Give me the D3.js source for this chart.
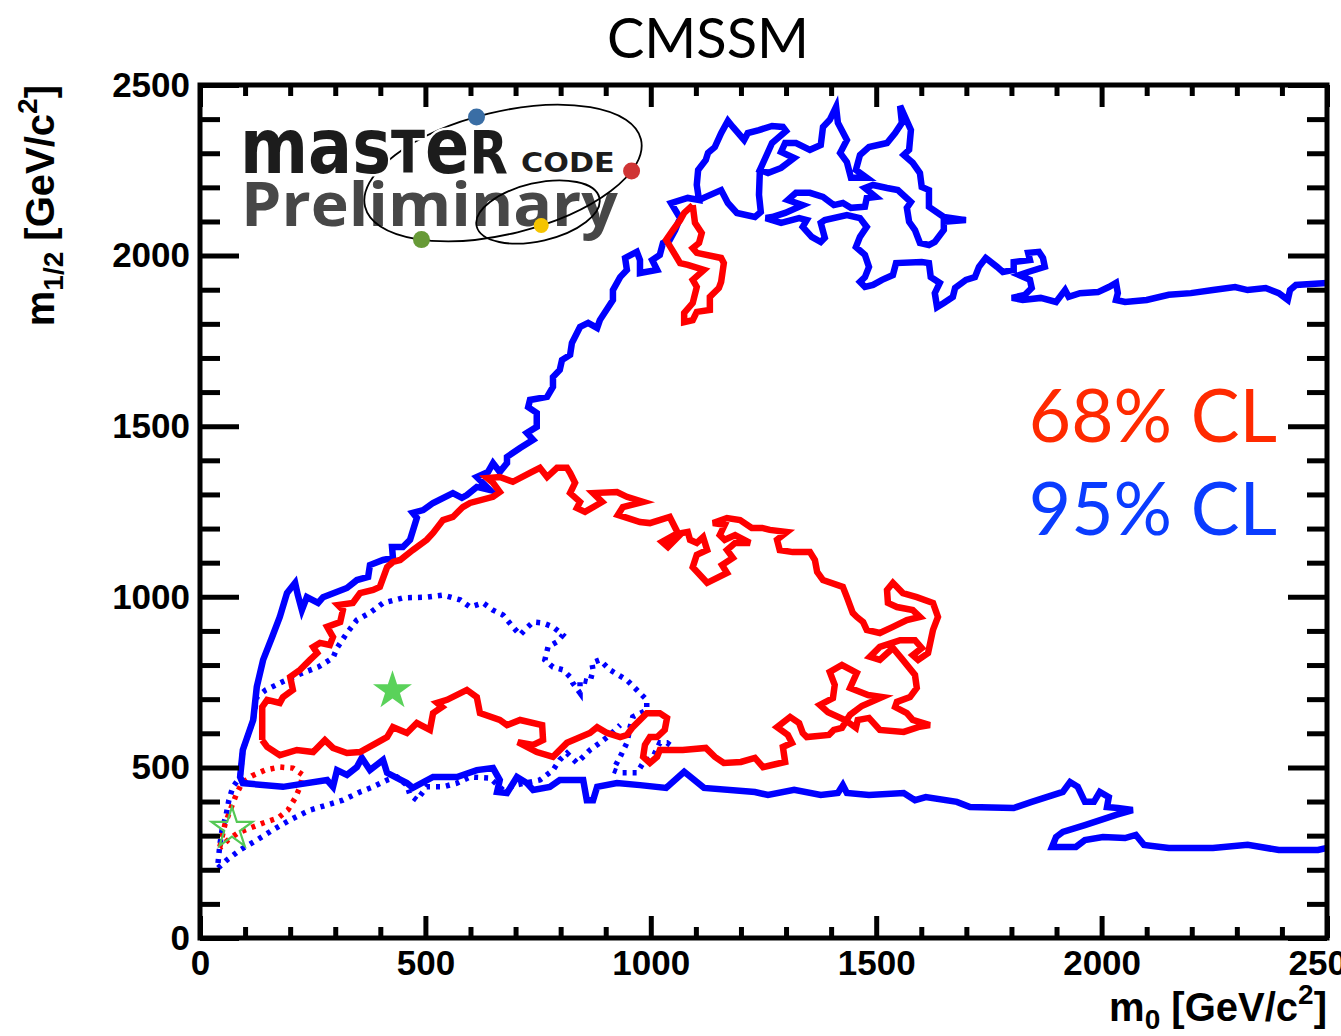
<!DOCTYPE html>
<html>
<head>
<meta charset="utf-8">
<script src="https://cdn.jsdelivr.net/npm/d3@7"></script>
<style>
  body { margin: 0; background: #fff; }
  svg { display: block; }
</style>
</head>
<body>
<script>
"use strict";

// ---- contour data, [m0, m1/2] in GeV ----
const blue95Main = [
  [2500,264],[2480,258],[2393,258],[2324,273],[2247,264],[2149,264],[2094,273],[2076,302],[2052,293],[2003,296],[1963,287],[1943,267],[1890,267],
  [1899,296],[1914,311],[1963,331],[2012,352],[2032,361],[2069,375],[2036,381],[2012,384],[2016,413],[1996,428],[1983,399],[1963,399],[1947,443],
  [1930,457],[1914,428],[1845,399],[1805,381],[1708,384],[1679,399],[1610,413],[1586,404],[1561,425],[1484,419],[1435,425],[1426,448],[1415,425],
  [1377,419],[1318,434],[1260,419],[1231,428],[1118,440],[1074,487],[1034,440],[976,448],[925,454],[881,443],[872,404],[858,404],[850,463],
  [798,463],[776,443],[739,434],[725,454],[703,472],[681,425],[659,428],[665,463],[650,498],[614,492],[570,472],[517,472],[472,440],[459,454],
  [415,484],[406,522],[377,492],[359,528],[348,501],[326,478],[304,492],[295,443],[282,463],[184,443],[95,454],[89,472],[95,551],[118,639],
  [126,736],[140,815],[160,882],[177,941],[193,1011],[211,1041],[217,1005],[226,961],[237,999],[262,982],[273,999],[326,1026],[348,1049],
  [373,1058],[377,1093],[406,1108],[428,1114],[426,1146],[450,1146],[466,1167],[481,1231],[472,1246],[495,1254],[517,1275],[561,1304],
  [581,1290],[592,1298],[614,1322],[643,1313],[614,1351],[639,1366],[650,1392],[665,1366],[681,1392],[681,1410],[710,1436],[739,1460],
  [725,1480],[747,1498],[747,1539],[728,1556],[732,1577],[770,1586],[783,1615],[783,1644],[798,1665],[803,1694],[821,1709],[825,1744],
  [843,1791],[861,1803],[881,1788],[887,1811],[916,1870],[916,1899],[932,1937],[947,1958],[943,1993],[969,2011],[976,1987],[976,1949],
  [1014,1958],[1003,1987],[1020,2002],[1027,2037],[1042,2046],[1054,2075],[1065,2110],[1045,2154],[1082,2169],[1107,2163],[1102,2207],
  [1105,2251],[1122,2280],[1127,2301],[1142,2318],[1156,2359],[1171,2395],[1182,2377],[1207,2339],[1215,2359],[1240,2368],[1269,2380],
  [1293,2377],[1300,2365],[1269,2330],[1255,2289],[1242,2251],[1260,2242],[1289,2257],[1318,2286],[1289,2304],[1298,2330],[1322,2330],
  [1353,2310],[1377,2324],[1382,2377],[1397,2398],[1411,2436],[1415,2389],[1435,2339],[1420,2301],[1435,2274],[1444,2228],[1479,2228],
  [1455,2251],[1464,2295],[1484,2318],[1524,2330],[1542,2359],[1557,2389],[1553,2439],[1577,2368],[1573,2310],[1561,2295],[1581,2272],
  [1597,2242],[1601,2201],[1617,2192],[1617,2143],[1650,2113],[1699,2104],[1650,2099],[1650,2075],[1630,2040],[1617,2031],[1597,2037],
  [1586,2075],[1573,2099],[1568,2140],[1577,2157],[1548,2192],[1524,2198],[1493,2207],[1475,2198],[1499,2172],[1479,2169],[1475,2143],
  [1444,2140],[1426,2154],[1406,2148],[1382,2172],[1353,2184],[1322,2184],[1304,2163],[1337,2148],[1298,2125],[1269,2113],[1255,2110],
  [1289,2096],[1329,2110],[1346,2104],[1337,2084],[1357,2055],[1377,2040],[1386,2052],[1377,2096],[1386,2104],[1435,2119],[1464,2110],
  [1479,2084],[1464,2055],[1455,2025],[1475,2002],[1484,1967],[1475,1937],[1464,1923],[1475,1908],[1493,1914],[1513,1929],[1537,1943],
  [1544,1978],[1601,1981],[1617,1978],[1621,1937],[1641,1920],[1630,1890],[1635,1849],[1650,1861],[1670,1879],[1675,1905],[1699,1929],
  [1719,1937],[1728,1967],[1743,1993],[1768,1967],[1781,1952],[1805,1958],[1805,1981],[1841,1987],[1837,2008],[1861,2011],[1870,1993],
  [1874,1967],[1837,1952],[1817,1943],[1841,1929],[1845,1905],[1830,1885],[1801,1876],[1825,1870],[1865,1876],[1899,1864],[1919,1899],
  [1927,1879],[1952,1890],[1992,1893],[2016,1908],[2032,1920],[2036,1890],[2032,1870],[2052,1864],[2100,1870],[2149,1885],[2198,1890],
  [2247,1899],[2296,1908],[2324,1899],[2364,1905],[2393,1890],[2413,1870],[2418,1899],[2431,1914],[2500,1920]
];

const blue95Lobe = [
  [1107,2163],[1122,2172],[1156,2192],[1171,2154],[1191,2125],[1231,2113],[1244,2128],[1240,2178],[1242,2251]
];

const red68Main = [
  [138,580],[138,677],[149,698],[177,689],[184,706],[206,727],[200,765],[222,786],[244,815],[260,835],[251,853],[266,865],[288,859],
  [295,882],[282,912],[311,926],[317,961],[306,976],[339,982],[355,1011],[384,1020],[399,1029],[415,1087],[428,1102],[444,1108],
  [472,1137],[503,1167],[517,1187],[539,1225],[561,1234],[583,1263],[599,1275],[650,1293],[665,1307],[650,1334],[637,1348],[665,1351],
  [694,1337],[732,1363],[754,1378],[770,1351],[792,1378],[814,1378],[821,1363],[832,1334],[821,1304],[843,1278],[836,1260],[854,1249],
  [892,1278],[872,1304],[925,1307],[947,1293],[983,1278],[938,1263],[927,1240],[976,1219],[998,1216],[1042,1234],[1060,1187],[1025,1161],
  [1038,1146],[1069,1187],[1082,1190],[1087,1167],[1102,1158],[1116,1175],[1125,1137],[1102,1123],[1093,1087],[1125,1041],[1169,1070],
  [1158,1093],[1182,1114],[1169,1137],[1187,1158],[1220,1158],[1187,1181],[1164,1167],[1153,1181],[1164,1211],[1138,1216],[1169,1231],
  [1198,1225],[1224,1202],[1247,1202],[1264,1196],[1302,1190],[1280,1167],[1286,1137],[1315,1131],[1353,1131],[1364,1108],[1369,1073],
  [1382,1049],[1426,1029],[1435,999],[1448,953],[1457,941],[1471,926],[1479,903],[1508,894],[1537,912],[1568,932],[1597,941],[1581,961],
  [1546,970],[1526,982],[1524,1020],[1537,1041],[1559,1011],[1590,999],[1626,982],[1637,941],[1626,903],[1615,835],[1593,815],[1581,829],
  [1601,850],[1586,873],[1553,873],[1508,853],[1486,824],[1508,815],[1537,850],[1559,815],[1586,771],[1590,733],[1575,706],[1546,692],
  [1542,677],[1568,659],[1581,639],[1619,624],[1593,618],[1561,604],[1508,610],[1484,645],[1459,639],[1455,616],[1431,639],[1393,662],
  [1375,683],[1404,703],[1408,742],[1397,780],[1424,800],[1457,777],[1442,733],[1482,712],[1513,706],[1468,680],[1442,654],[1424,616],
  [1406,610],[1395,595],[1346,589],[1337,601],[1329,630],[1309,648],[1280,618],[1304,595],[1313,572],[1293,560],[1298,516],[1269,507],
  [1249,501],[1231,528],[1200,516],[1162,513],[1142,531],[1122,557],[1071,551],[1020,551],[1014,531],[998,513],[983,531],[987,566],
  [998,589],[1014,589],[1031,610],[1036,645],[1020,659],[991,659],[960,618],[947,595],[932,589],[903,601],[881,618],[865,601],[814,572],
  [783,531],[747,545],[705,574],[739,566],[761,580],[759,624],[710,639],[681,624],[665,639],[621,659],[614,706],[592,727],[548,698],
  [526,689],[537,677],[517,659],[510,610],[481,630],[459,601],[428,618],[415,589],[384,566],[355,545],[326,542],[295,557],[277,580],
  [251,545],[215,551],[177,536],[149,560],[138,580]
];

const red68Upper = [
  [1093,2148],[1098,2096],[1113,2066],[1107,2037],[1093,2022],[1102,2008],[1156,1993],[1162,1978],[1156,1923],[1151,1905],[1131,1879],
  [1131,1841],[1102,1835],[1093,1811],[1074,1805],[1074,1832],[1093,1861],[1102,1908],[1093,1929],[1118,1958],[1082,1973],[1065,1978],
  [1045,2022],[1034,2046],[1049,2075],[1065,2104],[1074,2125],[1093,2148]
];

// dotted contours (earlier fit)
const blue95PrevUpper = [
  [40,220],[44,273],[49,317],[58,361],[64,404],[73,443],[89,472],[95,551],[118,639],[126,706],[146,727],[182,750],[228,777],[262,794],
  [295,821],[304,850],[326,894],[348,932],[377,953],[406,982],[450,997],[503,999],[539,1005],[577,991],[599,970],[628,982],[650,961],
  [672,947],[694,912],[710,888],[725,909],[739,926],[761,923],[783,912],[805,888],[792,868],[772,853],[765,815],[783,794],[805,786],
  [821,765],[827,747],[843,718],[843,756],[865,750],[872,786],[869,806],[887,815],[909,786],[947,756],[969,727],[991,698],[991,668],
  [960,648],[954,618],[947,572],[932,531],[916,492],[932,484],[969,484],[983,513],[1005,531],[1020,572],[1036,572],[1049,560]
];

const blue95PrevLower = [
  [40,205],[60,229],[89,258],[126,287],[162,317],[200,346],[244,375],[282,390],[317,404],[355,428],[384,443],[415,463],[437,472],
  [459,448],[466,419],[481,404],[503,443],[539,443],[570,454],[599,472],[643,469],[672,434],[699,448],[754,463],[783,492],[798,522],
  [814,542],[836,513],[865,551],[887,572],[909,595],[932,624]
];

const red68Prev = [
  [44,267],[55,331],[67,375],[80,419],[93,454],[115,475],[144,492],[177,501],[206,498],[228,478],[222,443],[211,410],[195,375],
  [173,352],[140,337],[111,322],[84,308],[62,287],[44,264]
];

const bestFit = [[427,725]];
const bestFitPrev = [[71,321]];

const xMajorTicks = [0, 500, 1000, 1500, 2000, 2500];
const yMajorTicks = [0, 500, 1000, 1500, 2000, 2500];
const minorTicks = d3.range(0, 2501, 100).filter(v => v % 500 !== 0);

const W = 1341, H = 1036;
const plot = {left: 200, right: 1327, top: 85, bottom: 938};
const labelFont = '"Liberation Sans", Arial, Helvetica, sans-serif';
const gillFont = 'Lato, "Open Sans", sans-serif';

const svg = d3.select("body").append("svg")
    .attr("width", W)
    .attr("height", H);

svg.append("rect").attr("width", W).attr("height", H).attr("fill", "#fff");

const x = d3.scaleLinear().domain([0, 2500]).range([plot.left, plot.right]);
const y = d3.scaleLinear().domain([0, 2500]).range([plot.bottom, plot.top]);

// ---- logo ----
const logo = svg.append("g");
logo.append("text")
    .attr("x", 241).attr("y", 226)
    .attr("font-family", '"Open Sans", "DejaVu Sans", sans-serif')
    .attr("font-weight", 700)
    .attr("font-size", 60)
    .attr("fill", "#474747")
    .attr("textLength", 377)
    .attr("lengthAdjust", "spacingAndGlyphs")
    .text("Preliminary");

const bigEll = {cx: 503, cy: 173, rx: 142, ry: 61, rot: -13.75};
const smallEll = {cx: 538, cy: 212, rx: 63, ry: 29, rot: -13};
[bigEll, smallEll].forEach(e => {
    logo.append("ellipse")
        .attr("cx", 0).attr("cy", 0).attr("rx", e.rx).attr("ry", e.ry)
        .attr("transform", `translate(${e.cx},${e.cy}) rotate(${e.rot})`)
        .attr("fill", "none").attr("stroke", "#000").attr("stroke-width", 1.8);
});
function onEllipse(e, tDeg) {
    const t = tDeg * Math.PI / 180, a = -e.rot * Math.PI / 180;
    const px = e.rx * Math.cos(t), py = e.ry * Math.sin(t);
    return [e.cx + px * Math.cos(a) + py * Math.sin(a), e.cy - px * Math.sin(a) + py * Math.cos(a)];
}
const logoDots = [
    {t: -95, c: "#3a6ea5", r: 8.5},
    {t: 28, c: "#d03535", r: 8.5},
    {t: 132, c: "#679a37", r: 8.5},
    {t: 80, c: "#f5c400", r: 7.5}
];
logoDots.forEach(d => {
    const p = onEllipse(bigEll, d.t);
    logo.append("circle").attr("cx", p[0]).attr("cy", p[1]).attr("r", d.r).attr("fill", d.c);
});

// lower case and capitals sized to one height, squeezed to the logo width
const mt = logo.append("text")
    .attr("transform", "translate(240,173) scale(0.86,1)")
    .attr("font-family", '"DejaVu Sans", sans-serif')
    .attr("font-weight", "bold")
    .attr("fill", "#1c1c1c")
    .attr("stroke", "#fff").attr("stroke-width", 5).attr("paint-order", "stroke");
[["mas", 76], ["T", 58], ["e", 76], ["R", 58]].forEach(p => {
    mt.append("tspan").attr("font-size", p[1]).text(p[0]);
});
logo.append("text")
    .attr("transform", "translate(521,172) scale(1.12,1)")
    .attr("font-family", '"DejaVu Sans", sans-serif')
    .attr("font-weight", "bold")
    .attr("font-size", 27)
    .attr("fill", "#1c1c1c")
    .attr("stroke", "#fff").attr("stroke-width", 4).attr("paint-order", "stroke")
    .text("CODE");

// ---- contours ----
svg.append("clipPath").attr("id", "plotClip")
    .append("rect")
    .attr("x", plot.left).attr("y", plot.top)
    .attr("width", plot.right - plot.left).attr("height", plot.bottom - plot.top);

const line = d3.line().x(d => x(d[0])).y(d => y(d[1]));
const contours = svg.append("g").attr("clip-path", "url(#plotClip)");

function drawContour(pts, color, width, dash) {
    contours.append("path")
        .attr("d", line(pts))
        .attr("fill", "none")
        .attr("stroke", color)
        .attr("stroke-width", width)
        .attr("stroke-linejoin", "miter")
        .attr("stroke-dasharray", dash || null);
}

drawContour(blue95PrevUpper, "#0000ff", 5.5, "4,6");
drawContour(blue95PrevLower, "#0000ff", 5.5, "4,6");
drawContour(red68Prev, "#ff0000", 5.5, "4,6");
drawContour(blue95Main, "#0000ff", 6.5);
drawContour(blue95Lobe, "#0000ff", 6.5);
drawContour(red68Main, "#ff0000", 6.5);
drawContour(red68Upper, "#ff0000", 6.5);

const star = d3.symbol().type(d3.symbolStar);
contours.selectAll(".best")
    .data(bestFit).enter()
    .append("path")
    .attr("class", "best")
    .attr("d", star.size(472)())
    .attr("transform", d => `translate(${x(d[0])},${y(d[1])})`)
    .attr("fill", "#5ad25a");
contours.selectAll(".bestPrev")
    .data(bestFitPrev).enter()
    .append("path")
    .attr("class", "bestPrev")
    .attr("d", star.size(519)())
    .attr("transform", d => `translate(${x(d[0])},${y(d[1])})`)
    .attr("fill", "none")
    .attr("stroke", "#55c855")
    .attr("stroke-width", 2.2);

// ---- axes ----
function styleAxis(g) {
    g.select(".domain").remove();
    g.selectAll(".tick line").attr("stroke", "#000").attr("stroke-width", 5);
    g.selectAll(".tick text")
        .attr("fill", "#000")
        .attr("font-family", labelFont)
        .attr("font-weight", "bold")
        .attr("font-size", 35);
}

svg.append("g").attr("transform", `translate(0,${plot.bottom})`)
    .call(d3.axisBottom(x).tickValues(minorTicks).tickSize(-11).tickFormat(""))
    .call(styleAxis);
svg.append("g").attr("transform", `translate(0,${plot.bottom})`)
    .call(d3.axisBottom(x).tickValues(xMajorTicks).tickSize(-22).tickPadding(12).tickFormat(d3.format("d")))
    .call(styleAxis);
svg.append("g").attr("transform", `translate(0,${plot.top})`)
    .call(d3.axisTop(x).tickValues(minorTicks).tickSize(-11).tickFormat(""))
    .call(styleAxis);
svg.append("g").attr("transform", `translate(0,${plot.top})`)
    .call(d3.axisTop(x).tickValues(xMajorTicks).tickSize(-22).tickFormat(""))
    .call(styleAxis);

svg.append("g").attr("transform", `translate(${plot.left},0)`)
    .call(d3.axisLeft(y).tickValues(minorTicks).tickSize(-20).tickFormat(""))
    .call(styleAxis);
svg.append("g").attr("transform", `translate(${plot.left},0)`)
    .call(d3.axisLeft(y).tickValues(yMajorTicks).tickSize(-39).tickPadding(10).tickFormat(d3.format("d")))
    .call(styleAxis);
svg.append("g").attr("transform", `translate(${plot.right},0)`)
    .call(d3.axisRight(y).tickValues(minorTicks).tickSize(-20).tickFormat(""))
    .call(styleAxis);
svg.append("g").attr("transform", `translate(${plot.right},0)`)
    .call(d3.axisRight(y).tickValues(yMajorTicks).tickSize(-39).tickFormat(""))
    .call(styleAxis);

// frame
svg.append("rect")
    .attr("x", plot.left).attr("y", plot.top)
    .attr("width", plot.right - plot.left).attr("height", plot.bottom - plot.top)
    .attr("fill", "none").attr("stroke", "#000").attr("stroke-width", 5);

// ---- titles ----
svg.append("text")
    .attr("x", 708).attr("y", 58)
    .attr("text-anchor", "middle")
    .attr("font-family", gillFont)
    .attr("font-size", 56)
    .attr("fill", "#000")
    .text("CMSSM");

const xt = svg.append("text")
    .attr("x", plot.right).attr("y", 1021)
    .attr("text-anchor", "end")
    .attr("font-family", labelFont).attr("font-weight", "bold").attr("font-size", 40)
    .style("white-space", "pre");
xt.append("tspan").text("m");
xt.append("tspan").attr("font-size", 28).attr("dy", 8).text("0");
xt.append("tspan").attr("dy", -8).text(" [GeV/c");
xt.append("tspan").attr("font-size", 28).attr("dy", -17).text("2");
xt.append("tspan").attr("dy", 17).text("]");

const yt = svg.append("text")
    .attr("transform", `translate(54,${plot.top}) rotate(-90)`)
    .attr("text-anchor", "end")
    .attr("font-family", labelFont).attr("font-weight", "bold").attr("font-size", 40)
    .style("white-space", "pre");
yt.append("tspan").text("m");
yt.append("tspan").attr("font-size", 28).attr("dy", 9).text("1/2");
yt.append("tspan").attr("dy", -9).text(" [GeV/c");
yt.append("tspan").attr("font-size", 28).attr("dy", -17).text("2");
yt.append("tspan").attr("dy", 17).text("]");

// ---- CL labels ----
const clLabels = [
    {text: "68% CL", color: "#ff2a00", y: 442},
    {text: "95% CL", color: "#0a3cff", y: 535}
];
svg.selectAll(".cl").data(clLabels).enter()
    .append("text")
    .attr("class", "cl")
    .attr("x", 1277).attr("y", d => d.y)
    .attr("text-anchor", "end")
    .attr("font-family", gillFont)
    .attr("font-size", 73)
    .attr("fill", d => d.color)
    .text(d => d.text);
</script>
</body>
</html>
